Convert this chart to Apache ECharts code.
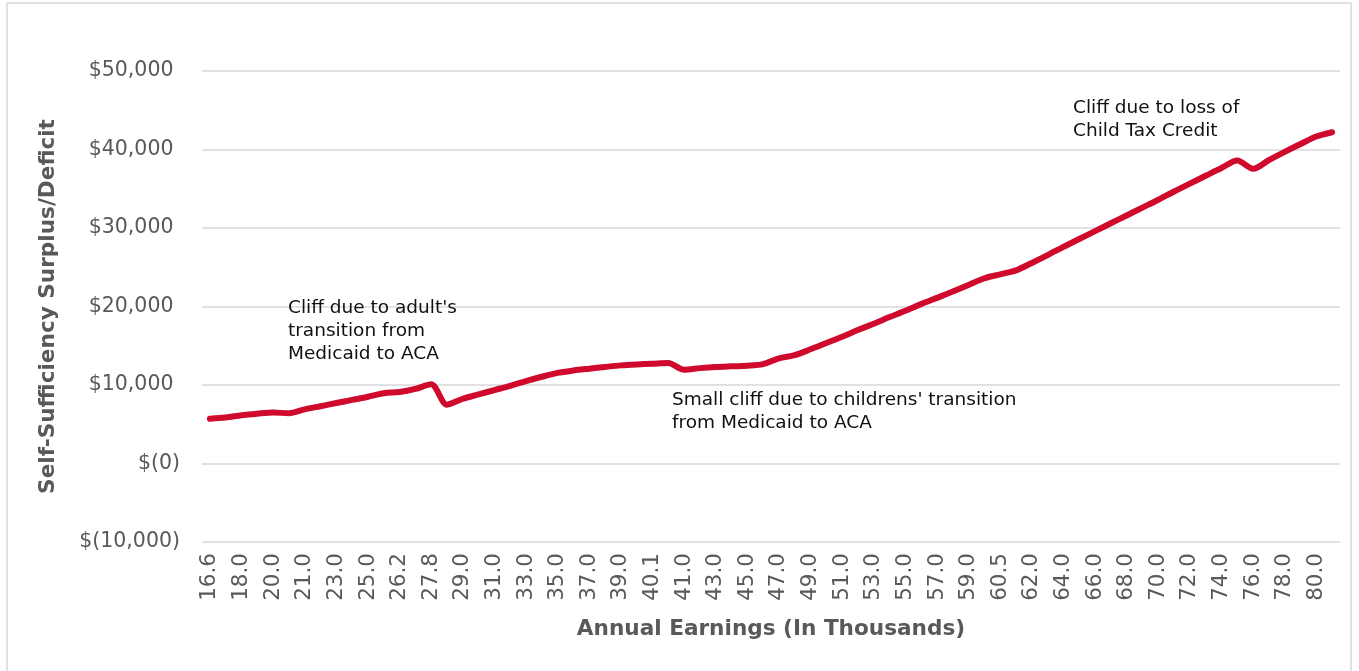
<!DOCTYPE html>
<html>
<head>
<meta charset="utf-8">
<title>Self-Sufficiency Surplus/Deficit by Annual Earnings</title>
<script src="https://cdn.jsdelivr.net/npm/echarts@6/dist/echarts.min.js"></script>
<style>
  html, body { margin: 0; padding: 0; background: #ffffff; }
  #chart { width: 1359px; height: 671px; }
</style>
</head>
<body>
<div id="chart"></div>
<script>
// Annual earnings in thousands (every other one is labelled on the axis)
const earnings = [
  '16.6', '17.0', '18.0', '19.0', '20.0', '20.5', '21.0', '22.0', '23.0', '24.0',
  '25.0', '25.6', '26.2', '27.0', '27.8', '28.4', '29.0', '30.0', '31.0', '32.0',
  '33.0', '34.0', '35.0', '36.0', '37.0', '38.0', '39.0', '39.6', '40.1', '40.6',
  '41.0', '42.0', '43.0', '44.0', '45.0', '46.0', '47.0', '48.0', '49.0', '50.0',
  '51.0', '52.0', '53.0', '54.0', '55.0', '56.0', '57.0', '58.0', '59.0', '60.0',
  '60.5', '61.0', '62.0', '63.0', '64.0', '65.0', '66.0', '67.0', '68.0', '69.0',
  '70.0', '71.0', '72.0', '73.0', '74.0', '75.0', '76.0', '77.0', '78.0', '79.0',
  '80.0', '81.0'
];

// Self-sufficiency surplus (+) or deficit (-) in dollars
const surplus = [
  5700, 5850, 6150, 6350, 6500, 6400, 6900, 7300, 7700, 8100,
  8500, 8950, 9100, 9500, 10100, 7500, 8250, 8800, 9350, 9900,
  10500, 11050, 11550, 11850, 12080, 12300, 12500, 12620, 12700, 12800,
  11950, 12150, 12300, 12380, 12450, 12650, 13400, 13800, 14550, 15350,
  16150, 17000, 17800, 18650, 19450, 20300, 21100, 21900, 22750, 23600,
  24100, 24600, 25550, 26550, 27600, 28600, 29600, 30600, 31600, 32600,
  33600, 34650, 35650, 36650, 37650, 38600, 37550, 38650, 39700, 40700,
  41650, 42200
];

// Value axis range and step
const yMin = -10000;
const yMax = 50000;
const yStep = 10000;

// Callout notes for the benefit cliffs
const notes = [
  { text: "Cliff due to adult's\ntransition from\nMedicaid to ACA", left: 288, top: 297 },
  { text: "Small cliff due to childrens' transition\nfrom Medicaid to ACA", left: 672, top: 389 },
  { text: "Cliff due to loss of\nChild Tax Credit", left: 1073, top: 97 }
];

function money(v) {
  const s = Math.abs(v).toLocaleString('en-US');
  if (v <= 0) return '$(' + s + ')';
  return '$' + s + ' ';
}

const chart = echarts.init(document.getElementById('chart'), null, { renderer: 'canvas' });

const labelFont = 'DejaVu Sans, Verdana, sans-serif';

chart.setOption({
  animation: false,
  backgroundColor: '#ffffff',
  grid: { left: 202, right: 19, top: 71, bottom: 129, containLabel: false },
  xAxis: {
    type: 'category',
    data: earnings,
    boundaryGap: true,
    axisLine: { show: false },
    axisTick: { show: false },
    splitLine: { show: false },
    axisLabel: {
      interval: 1,
      rotate: 90,
      margin: 11,
      color: '#595959',
      fontFamily: labelFont,
      fontSize: 21.5
    },
    name: 'Annual Earnings (In Thousands)',
    nameLocation: 'middle',
    nameGap: 76,
    nameTextStyle: {
      color: '#595959',
      fontFamily: labelFont,
      fontWeight: 'bold',
      fontSize: 21.6
    }
  },
  yAxis: {
    type: 'value',
    min: yMin,
    max: yMax,
    interval: yStep,
    axisLine: { show: false },
    axisTick: { show: false },
    splitLine: { lineStyle: { color: '#d9d9d9', width: 1.5 } },
    axisLabel: {
      margin: 22,
      color: '#595959',
      fontFamily: labelFont,
      fontSize: 20.5,
      formatter: money
    },
    name: 'Self-Sufficiency Surplus/Deficit',
    nameLocation: 'middle',
    nameGap: 143,
    nameTextStyle: {
      color: '#595959',
      fontFamily: labelFont,
      fontWeight: 'bold',
      fontSize: 21.6
    }
  },
  series: [{
    type: 'line',
    data: surplus,
    smooth: 0.3,
    symbol: 'none',
    lineStyle: { color: '#cf0a2c', width: 6, cap: 'round', join: 'round' },
    z: 5
  }],
  graphic: [
    {
      type: 'rect',
      silent: true,
      shape: { x: 7, y: 3, width: 1344, height: 720 },
      style: { fill: 'none', stroke: '#d9d9d9', lineWidth: 1.5 },
      z: -1
    }
  ].concat(notes.map(n => ({
    type: 'text',
    silent: true,
    left: n.left,
    top: n.top,
    z: 10,
    style: {
      text: n.text,
      fill: '#111111',
      font: '18.5px "DejaVu Sans", Verdana, sans-serif',
      lineHeight: 23
    }
  })))
});
</script>
</body>
</html>
